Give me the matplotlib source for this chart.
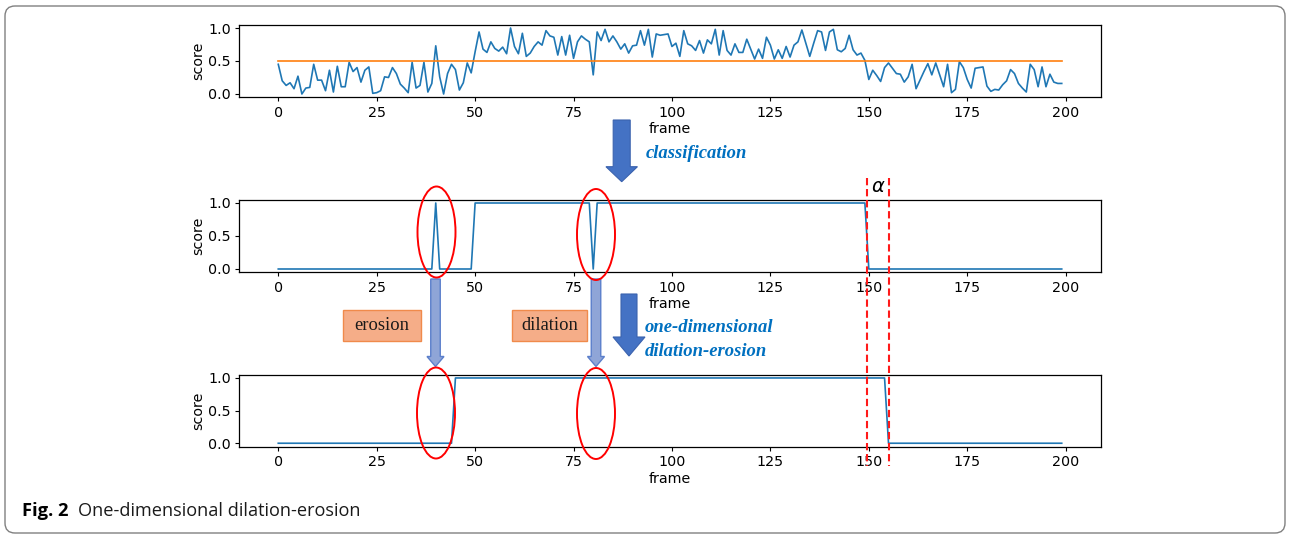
import numpy as np
import matplotlib
matplotlib.use("Agg")
import matplotlib.pyplot as plt
from matplotlib.patches import Ellipse, FancyArrow, FancyBboxPatch, Rectangle

# ---------------- data ----------------
frames = np.arange(200)
raw_score = [
    0.45, 0.20, 0.13, 0.17, 0.08, 0.27, 0.00, 0.09, 0.10, 0.45,
    0.21, 0.21, 0.05, 0.36, 0.03, 0.42, 0.11, 0.11, 0.48, 0.34,
    0.40, 0.18, 0.36, 0.41, 0.01, 0.02, 0.05, 0.26, 0.25, 0.40,
    0.31, 0.15, 0.09, 0.02, 0.48, 0.09, 0.13, 0.48, 0.03, 0.16,
    0.73, 0.26, 0.00, 0.31, 0.45, 0.37, 0.06, 0.17, 0.47, 0.32,
    0.64, 0.94, 0.68, 0.63, 0.79, 0.69, 0.65, 0.71, 0.61, 1.00,
    0.72, 0.61, 0.92, 0.57, 0.62, 0.72, 0.79, 0.74, 0.96, 0.88,
    0.86, 0.59, 0.87, 0.59, 0.89, 0.54, 0.79, 0.88, 0.83, 0.79,
    0.29, 0.94, 0.81, 0.98, 0.79, 0.88, 0.79, 0.68, 0.76, 0.62,
    0.73, 0.74, 0.96, 0.74, 0.98, 0.56, 0.91, 0.89, 0.90, 0.91,
    0.72, 0.77, 0.57, 0.96, 0.76, 0.73, 0.66, 0.81, 0.62, 0.82,
    0.76, 0.98, 0.59, 0.96, 0.66, 0.59, 0.76, 0.63, 0.63, 0.83,
    0.68, 0.53, 0.68, 0.54, 0.86, 0.74, 0.53, 0.67, 0.54, 0.72,
    0.56, 0.74, 0.79, 0.97, 0.77, 0.57, 0.77, 0.96, 0.94, 0.66,
    0.94, 0.98, 0.67, 0.64, 0.69, 0.89, 0.67, 0.59, 0.62, 0.51,
    0.22, 0.36, 0.28, 0.19, 0.40, 0.47, 0.39, 0.31, 0.30, 0.18,
    0.26, 0.45, 0.08, 0.21, 0.34, 0.46, 0.29, 0.47, 0.29, 0.11,
    0.45, 0.02, 0.07, 0.49, 0.40, 0.22, 0.09, 0.39, 0.40, 0.41,
    0.12, 0.04, 0.07, 0.06, 0.14, 0.20, 0.37, 0.31, 0.16, 0.09,
    0.03, 0.45, 0.37, 0.11, 0.41, 0.11, 0.30, 0.18, 0.16, 0.16,
]
threshold = 0.5
# (value, run length) of the classified and the dilation-erosion filtered series
classified_runs = [(0, 40), (1, 1), (0, 9), (1, 30), (0, 1), (1, 69), (0, 50)]
filtered_runs = [(0, 45), (1, 110), (0, 45)]
x_ticks = [0, 25, 50, 75, 100, 125, 150, 175, 200]
y_ticks = [0.0, 0.5, 1.0]

classified = np.repeat([v for v, n in classified_runs], [n for v, n in classified_runs])
filtered = np.repeat([v for v, n in filtered_runs], [n for v, n in filtered_runs])

# ---------------- figure ----------------
W, H = 1289, 535
fig = plt.figure(figsize=(W / 100, H / 100), dpi=100)
fig.patch.set_facecolor("white")

BLUE = "#1f77b4"
ORANGE = "#ff7f0e"


def px_axes(left, top, right, bottom):
    return fig.add_axes([left / W, 1 - bottom / H, (right - left) / W, (bottom - top) / H])


def style(ax):
    ax.set_xlim(-9.95, 208.95)
    ax.set_ylim(-0.05, 1.05)
    ax.set_xticks(x_ticks)
    ax.set_yticks(y_ticks)
    ax.tick_params(labelsize=10.3, length=3, width=0.8, pad=3)
    ax.set_xlabel("frame", fontsize=10.3, labelpad=2)
    ax.set_ylabel("score", fontsize=10.3, labelpad=2)
    for s in ax.spines.values():
        s.set_linewidth(0.9)


L, R = 239.1, 1100.9
ax1 = px_axes(L, 24.7, R, 97.3)
ax1.plot(frames, raw_score, color=BLUE, lw=1.2)
ax1.plot(frames, np.full(len(frames), threshold), color=ORANGE, lw=1.2)
style(ax1)

ax2 = px_axes(L, 199.7, R, 272.3)
ax2.plot(frames, classified, color=BLUE, lw=1.2)
style(ax2)

ax3 = px_axes(L, 374.7, R, 446.5)
ax3.plot(frames, filtered, color=BLUE, lw=1.2)
style(ax3)

# ---------------- overlay (pixel coordinates, y downwards) ----------------
ov = fig.add_axes([0, 0, 1, 1])
ov.set_xlim(0, W)
ov.set_ylim(H, 0)
ov.axis("off")

# outer rounded border
ov.add_patch(FancyBboxPatch((5, 6), 1280, 527, boxstyle="round,pad=0,rounding_size=10",
                            fc="none", ec="#808080", lw=1.0))

ARROW_BLUE = "#4472C4"
TEXT_BLUE = "#0070C0"


def big_arrow(xc, top, tip, width, head_w, head_l):
    ov.add_patch(FancyArrow(xc, top, 0, tip - top, width=width, head_width=head_w,
                            head_length=head_l, length_includes_head=True,
                            fc=ARROW_BLUE, ec="#3A62AE", lw=0.8))


big_arrow(621.7, 120, 181.7, 17, 31.5, 15)
big_arrow(629, 294, 356, 16, 32, 19)

# thin light arrows
for xc in (435.5, 596):
    ov.add_patch(FancyArrow(xc, 279, 0, 87.5, width=9.5, head_width=17, head_length=10,
                            length_includes_head=True, fc="#8FA5D7", ec="#5B7FCB", lw=1.0))

# red ellipses
for (xc, yc) in [(436.5, 232), (596, 234.5), (436, 413), (596, 413.5)]:
    ov.add_patch(Ellipse((xc, yc), 38, 91, fc="none", ec="#FF0000", lw=1.4))

# orange boxes
for (x0, x1, label) in [(343, 421, "erosion"), (512, 587, "dilation")]:
    ov.add_patch(Rectangle((x0, 310), x1 - x0, 31, fc="#F5AD88", ec="#F08A4B", lw=1.0))
    ov.text((x0 + x1) / 2, 326, label, ha="center", va="center", fontsize=13.3,
            family="Liberation Serif", color="#1a1a1a")

# blue annotation texts
for (x, y, s) in [(646, 154, "classification"), (645, 327, "one-dimensional"),
                  (645, 351, "dilation-erosion")]:
    ov.text(x, y, s, ha="left", va="center", fontsize=13.4, family="Liberation Serif",
            fontweight="bold", style="italic", color=TEXT_BLUE)

# alpha window (red dashed lines)
for xv in (866.7, 889.3):
    ov.plot([xv, xv], [178, 466], color="#FF1A1A", lw=1.5, linestyle=(0, (3.5, 1.8)))
ov.text(878, 187, r"$\alpha$", ha="center", va="center", fontsize=14, color="black")

# caption
ov.text(22, 511, "Fig. 2", ha="left", va="center", fontsize=13.2, family="Open Sans",
        fontweight="bold", color="black")
ov.text(78, 511, "One-dimensional dilation-erosion", ha="left", va="center", fontsize=13.1,
        family="Open Sans", color="#1a1a1a")

fig.savefig("out.png", dpi=100)
